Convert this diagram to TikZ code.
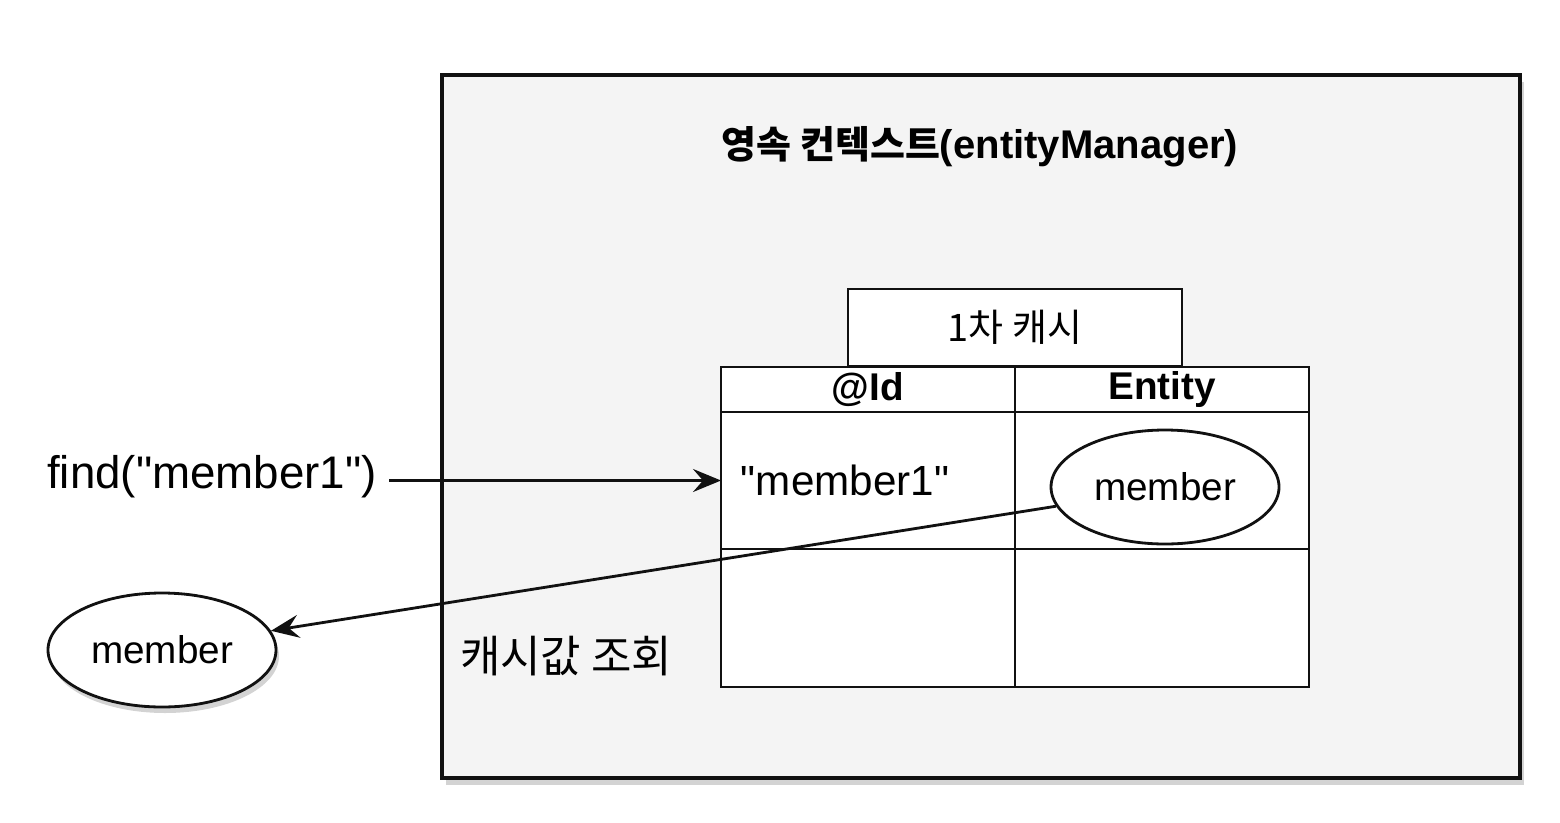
\documentclass[tikz,border=0pt]{standalone}
\usepackage{fontspec}
\setmainfont{Liberation Sans}
\newfontfamily\krfont{Noto Sans CJK KR}
\usetikzlibrary{positioning, arrows.meta, shadows, shapes.geometric}
\definecolor{ctxFill}{HTML}{F4F4F4}
\definecolor{lineCol}{HTML}{111111}

\begin{document}
\begin{tikzpicture}[
    % Node styles
    ctxbox/.style={
        rectangle,
        draw=lineCol,
        fill=ctxFill,
        line width=1.1pt,
        minimum width=10.78cm,
        minimum height=7.03cm,
        drop shadow={shadow xshift=0.4mm, shadow yshift=-0.7mm, opacity=0.35}
    },
    cell/.style={
        rectangle,
        draw=lineCol,
        fill=white,
        line width=0.8pt,
        inner sep=0pt,
        outer sep=0pt,
        minimum width=2.94cm,
        minimum height=#1
    },
    headtext/.style={
        font=\fontsize{11}{13}\selectfont\bfseries
    },
    entity/.style={
        ellipse,
        draw=lineCol,
        fill=white,
        line width=0.8pt,
        inner sep=0pt,
        minimum width=2.28cm,
        minimum height=1.14cm,
        font=\fontsize{11}{13}\selectfont
    },
    arrow/.style={
        -{Stealth[length=2.8mm, width=2.3mm, inset=1mm]},
        line width=0.8pt,
        draw=lineCol
    }
]
    \useasboundingbox (0,0) rectangle (15.6,8.22);

    % ==== PERSISTENCE CONTEXT ====
    \node[ctxbox] (ctx) at (9.81, 3.955) {};
    \node[font=\fontsize{11.4}{13}\selectfont\bfseries] (title) at (9.80, 6.75)
        {{\krfont\fontsize{10.8}{13}\selectfont 영속 컨텍스트}(entityManager)};

    % ==== FIRST-LEVEL CACHE ====
    \node[cell=0.77cm, minimum width=3.34cm, font=\krfont\fontsize{10.8}{12}\selectfont] (cacheLabel) at (10.15, 4.945) {1차 캐시};

    % Table cells
    \node[cell=0.45cm] (idHead) at (8.68, 4.325) {};
    \node[cell=0.45cm] (entHead) at (11.62, 4.325) {};
    \node[cell=1.37cm] (idRow) at (8.68, 3.415) {};
    \node[cell=1.37cm] (entRow) at (11.62, 3.415) {};
    \node[cell=1.38cm] (idEmpty) at (8.68, 2.04) {};
    \node[cell=1.38cm] (entEmpty) at (11.62, 2.04) {};

    \node[headtext] at (idHead) {@Id};
    \node[headtext] at (entHead) {Entity};
    \node[font=\fontsize{12}{14}\selectfont] (idKey) at (8.45, 3.42) {\textquotedbl member1\textquotedbl};
    \node[entity] (memCache) at (11.65, 3.35) {member};

    % ==== CALLER SIDE ====
    \node[font=\fontsize{13}{15}\selectfont] (find) at (2.12, 3.45) {find(\textquotedbl member1\textquotedbl)};
    \node[entity, drop shadow={shadow xshift=0.3mm, shadow yshift=-0.6mm, opacity=0.35}] (memOut) at (1.62, 1.72) {member};

    \draw[arrow] (find.east |- idRow.west) -- (idRow.west);
    \draw[arrow] (memCache.190) -- (memOut.10);

    \node[font=\krfont\fontsize{12.5}{14}\selectfont] (lookup) at (5.66, 1.66) {캐시값 조회};

\end{tikzpicture}
\end{document}
